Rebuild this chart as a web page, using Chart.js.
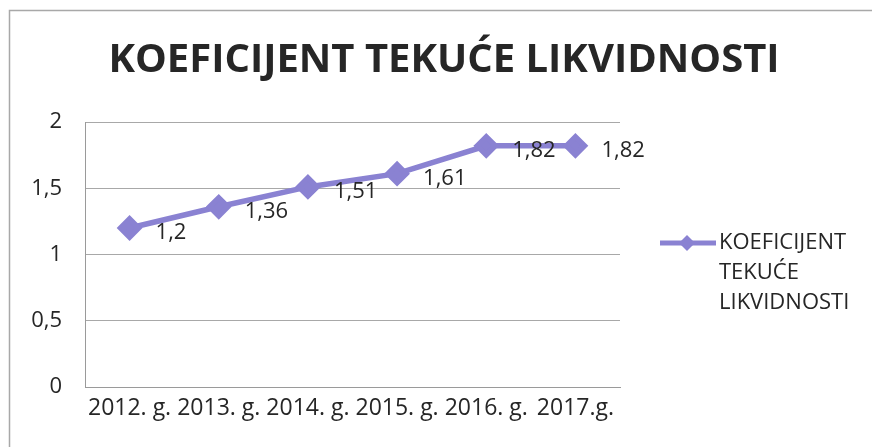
<!DOCTYPE html>
<html>
<head>
<meta charset="utf-8">
<script src="https://cdn.jsdelivr.net/npm/chart.js@4"></script>
<style>
  html, body { margin: 0; padding: 0; background: #fff; }
  #wrap { width: 872px; height: 447px; position: relative; }
</style>
</head>
<body>
<div id="wrap"><canvas id="koefChart"></canvas></div>
<script>
// podaci
const godine = ["2012. g.", "2013. g.", "2014. g.", "2015. g.", "2016. g.", "2017.g."];
const koeficijent = [1.2, 1.36, 1.51, 1.61, 1.82, 1.82];
const yTicks = [0, 0.5, 1, 1.5, 2];
const nazivSerije = ["KOEFICIJENT", "TEKUĆE", "LIKVIDNOSTI"];
const naslov = "KOEFICIJENT TEKUĆE LIKVIDNOSTI";

const ljubicasta = "#8a82d2";
const tekst = "#262626";
const font = "'Open Sans', 'DejaVu Sans', sans-serif";
const zarez = v => String(v).replace(".", ",");

// okvir skeniranog dijagrama (samo gore i lijevo)
const okvir = {
    id: "okvir",
    beforeDraw(chart) {
        const ctx = chart.ctx;
        ctx.save();
        ctx.strokeStyle = "#a8a8a8";
        ctx.lineWidth = 1.5;
        ctx.beginPath();
        ctx.moveTo(9.5, 447);
        ctx.lineTo(9.5, 10.5);
        ctx.lineTo(872, 10.5);
        ctx.stroke();
        ctx.restore();
    },
};

// vrijednosti desno od tocaka
const oznake = {
    id: "oznake",
    afterDatasetsDraw(chart) {
        const ctx = chart.ctx;
        const meta = chart.getDatasetMeta(0);
        ctx.save();
        ctx.fillStyle = tekst;
        ctx.font = "22px " + font;
        ctx.textAlign = "left";
        ctx.textBaseline = "middle";
        meta.data.forEach((pt, i) => {
            ctx.fillText(zarez(koeficijent[i]), pt.x + 26, pt.y + 5);
        });
        ctx.restore();
    },
};

// legenda u tri reda
const legenda = {
    id: "legenda",
    afterDraw(chart) {
        const ctx = chart.ctx;
        const x0 = chart.chartArea.right + 40;
        const y0 = chart.chartArea.top + 121;
        ctx.save();
        ctx.strokeStyle = ljubicasta;
        ctx.fillStyle = ljubicasta;
        ctx.lineWidth = 5;
        ctx.beginPath();
        ctx.moveTo(x0, y0);
        ctx.lineTo(x0 + 56, y0);
        ctx.stroke();
        const cx = x0 + 27, r = 8;
        ctx.beginPath();
        ctx.moveTo(cx, y0 - r);
        ctx.lineTo(cx + r, y0);
        ctx.lineTo(cx, y0 + r);
        ctx.lineTo(cx - r, y0);
        ctx.closePath();
        ctx.fill();
        ctx.fillStyle = tekst;
        ctx.font = "22px " + font;
        ctx.textAlign = "left";
        ctx.textBaseline = "middle";
        nazivSerije.forEach((red, i) => {
            ctx.fillText(red, x0 + 59, y0 + i * 30);
        });
        ctx.restore();
    },
};

new Chart(document.getElementById("koefChart"), {
    type: "line",
    data: {
        labels: godine,
        datasets: [
            {
                label: nazivSerije.join(" "),
                data: koeficijent,
                borderColor: ljubicasta,
                backgroundColor: ljubicasta,
                borderWidth: 5.5,
                pointStyle: "rectRot",
                pointRadius: 9,
                pointHoverRadius: 9,
                tension: 0,
            },
        ],
    },
    options: {
        responsive: true,
        maintainAspectRatio: false,
        animation: false,
        layout: { padding: { left: 16, right: 0, top: 0, bottom: 8 } },
        plugins: {
            legend: { display: false },
            tooltip: { enabled: false },
            title: {
                display: true,
                text: naslov,
                color: tekst,
                font: { family: font, size: 40, weight: "bold" },
                padding: { top: 37, bottom: 37 },
            },
        },
        scales: {
            x: {
                offset: true,
                grid: { display: false, drawTicks: false },
                border: { color: "#9a9a9a" },
                afterFit: axis => { axis.height = 52; },
                ticks: {
                    color: tekst,
                    font: { family: font, size: 23 },
                    maxRotation: 0,
                    autoSkip: false,
                    padding: 8,
                },
            },
            y: {
                min: 0,
                max: 2,
                afterBuildTicks: axis => { axis.ticks = yTicks.map(v => ({ value: v })); },
                afterFit: axis => { axis.width = 69; },
                grid: { color: "#a8a8a8", drawTicks: false },
                border: { color: "#9a9a9a" },
                ticks: {
                    color: tekst,
                    font: { family: font, size: 22 },
                    padding: 23,
                    callback: v => zarez(v),
                },
            },
            // prazan prostor za legendu
            desno: {
                type: "linear",
                position: "right",
                grid: { display: false, drawTicks: false },
                border: { display: false },
                ticks: { display: false },
                afterFit: axis => { axis.width = 252; },
            },
        },
    },
    plugins: [okvir, oznake, legenda],
});
</script>
</body>
</html>
